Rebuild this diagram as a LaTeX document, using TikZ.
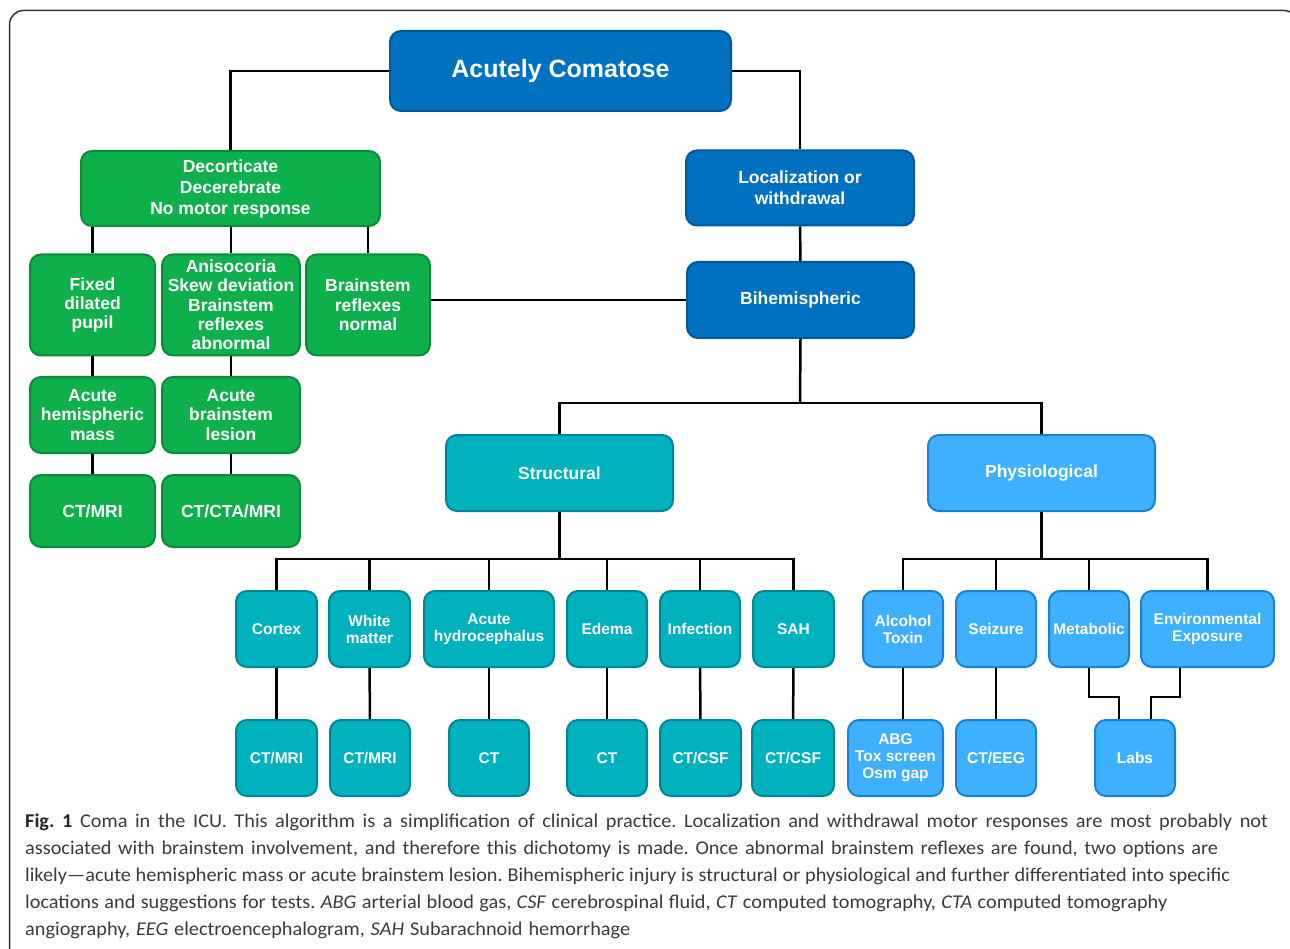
\documentclass[tikz,border=0pt]{standalone}
\usepackage{fontspec}
\setmainfont{Liberation Sans}
\newfontfamily\capfont[Ligatures=TeX,FakeStretch=1.04]{Carlito}
\usetikzlibrary{positioning}
\definecolor{dblueF}{RGB}{0,112,192}
\definecolor{dblueD}{RGB}{0,88,158}
\definecolor{greenF}{RGB}{14,176,75}
\definecolor{greenD}{RGB}{12,138,58}
\definecolor{tealF}{RGB}{0,178,190}
\definecolor{tealD}{RGB}{0,134,146}
\definecolor{lblueF}{RGB}{63,176,255}
\definecolor{lblueD}{RGB}{26,128,208}
\definecolor{capgray}{RGB}{58,58,58}
\newcommand{\capline}[2]{\makebox[#1pt][s]{#2}}
\tikzset{
  bx/.style={rectangle,rounded corners=11pt,draw,line width=2pt,text=white,
             align=center,inner sep=1pt,
             font=\bfseries\fontsize{17.5}{19.3}\selectfont},
  sm/.style={font=\bfseries\fontsize{15.5}{17}\selectfont},
  dbl/.style={bx,fill=dblueF,draw=dblueD},
  grn/.style={bx,fill=greenF,draw=greenD},
  tea/.style={bx,sm,fill=tealF,draw=tealD},
  lbl/.style={bx,sm,fill=lblueF,draw=lblueD},
  ln/.style={line width=2.5pt,black},
  capt/.style={anchor=base west,inner sep=0pt,text=capgray,
               font=\capfont\fontsize{19.5}{23}\selectfont\frenchspacing},
  every picture/.style={line join=miter}}
\begin{document}
\begin{tikzpicture}[x=1pt,y=-1pt]
  \useasboundingbox (0,0) rectangle (1290,949);
  \draw[line width=1.5pt,black!80,rounded corners=14pt] (9.5,10.5) rectangle (1298,990);
  % top of the tree
  \node[dbl,minimum width=341,minimum height=80,
        font=\bfseries\fontsize{25}{28}\selectfont] (top) at (560.5,71){Acutely Comatose};
  \node[grn,minimum width=299,minimum height=75,
        font=\bfseries\fontsize{17.5}{21}\selectfont] (dec) at (230.5,188.5){Decorticate\\Decerebrate\\No motor response};
  \node[dbl,minimum width=228,minimum height=75,
        font=\bfseries\fontsize{17.5}{21}\selectfont] (loc) at (800,188){Localization or\\withdrawal};
  \node[dbl,minimum width=227,minimum height=76] (bih) at (800.5,300){Bihemispheric};
  % green branch
  \node[grn,minimum width=125,minimum height=101] (fdp) at (92.5,305){Fixed\\dilated\\pupil};
  \node[grn,minimum width=138,minimum height=101] (ani) at (231,305){Anisocoria\\Skew deviation\\Brainstem\\reflexes\\abnormal};
  \node[grn,minimum width=124,minimum height=101] (bsn) at (368,305){Brainstem\\reflexes\\normal};
  \node[grn,minimum width=125,minimum height=76] (ahm) at (92.5,415){Acute\\hemispheric\\mass};
  \node[grn,minimum width=138,minimum height=76] (abl) at (231,415){Acute\\brainstem\\lesion};
  \node[grn,minimum width=125,minimum height=72] (ctm) at (92.5,511){CT/MRI};
  \node[grn,minimum width=138,minimum height=72] (cta) at (231,511){CT/CTA/MRI};
  % structural / physiological
  \node[tea,minimum width=227,minimum height=76,
        font=\bfseries\fontsize{17.5}{19.3}\selectfont] (str) at (559.5,473){Structural};
  \node[lbl,minimum width=227,minimum height=76,
        font=\bfseries\fontsize{17.5}{19.3}\selectfont] (phy) at (1041.5,473){Physiological};
  \node[tea,minimum width=81,minimum height=76] (cor) at (276.5,629){Cortex};
  \node[tea,minimum width=81,minimum height=76] (wm) at (369.5,629){White\\matter};
  \node[tea,minimum width=130,minimum height=76] (hyd) at (489,629){Acute\\hydrocephalus};
  \node[tea,minimum width=80,minimum height=76] (ede) at (607,629){Edema};
  \node[tea,minimum width=80,minimum height=76] (inf) at (700,629){Infection};
  \node[tea,minimum width=81,minimum height=76] (sah) at (793.5,629){SAH};
  \node[tea,minimum width=81,minimum height=76] (tcor) at (276.5,758){CT/MRI};
  \node[tea,minimum width=80,minimum height=76] (twm) at (370,758){CT/MRI};
  \node[tea,minimum width=80,minimum height=76] (thyd) at (489,758){CT};
  \node[tea,minimum width=80,minimum height=76] (tede) at (607,758){CT};
  \node[tea,minimum width=81,minimum height=76] (tinf) at (700.5,758){CT/CSF};
  \node[tea,minimum width=82,minimum height=76] (tsah) at (793,758){CT/CSF};
  \node[lbl,minimum width=80,minimum height=76] (alc) at (903,629){Alcohol\\Toxin};
  \node[lbl,minimum width=80,minimum height=76] (sei) at (996,629){Seizure};
  \node[lbl,minimum width=80,minimum height=76] (met) at (1089,629){Metabolic};
  \node[lbl,minimum width=133,minimum height=76] (env) at (1207.5,629){Environmental\\Exposure};
  \node[lbl,minimum width=95,minimum height=76] (abg) at (895.5,758){ABG\\Tox screen\\Osm gap};
  \node[lbl,minimum width=80,minimum height=76] (eeg) at (996,758){CT/EEG};
  \node[lbl,minimum width=80,minimum height=76] (lab) at (1135,758){Labs};
  % connectors
  \coordinate (bj) at (800,403);
  \coordinate (sj) at (559.5,559);
  \coordinate (pj) at (1041.5,559);
  \draw[ln] (top.west) -| (dec.north);
  \draw[ln] (top.east) -| (loc.north);
  \draw[ln] (loc) -- (bih);
  \draw[ln] (bih.west) -- (bih.west -| bsn.east);
  \foreach \n in {fdp,ani,bsn} \draw[ln] (\n.north) -- (\n.north |- dec.south);
  \draw[ln] (fdp) -- (ahm) (ahm) -- (ctm);
  \draw[ln] (ani) -- (abl) (abl) -- (cta);
  \draw[ln] (bih.south) -- (bj);
  \draw[ln] (str.north) |- (bj) -| (phy.north);
  \draw[ln] (str.south) -- (sj) (phy.south) -- (pj);
  \draw[ln] (cor.north) |- (sj) -| (sah.north);
  \foreach \n in {wm,hyd,ede,inf} \draw[ln] (sj -| \n.north) -- (\n.north);
  \draw[ln] (alc.north) |- (pj) -| (env.north);
  \foreach \n in {sei,met} \draw[ln] (pj -| \n.north) -- (\n.north);
  \foreach \a/\b in {cor/tcor,wm/twm,hyd/thyd,ede/tede,inf/tinf,sah/tsah,sei/eeg}
    \draw[ln] (\a) -- (\b);
  \draw[ln] (alc.south) -- (alc.south |- abg.north);
  \draw[ln] (met.south) -- ++(0,29) -| ([xshift=-16]lab.north);
  \draw[ln] ([xshift=-27.5]env.south) -- ++(0,29) -| ([xshift=16]lab.north);
  % caption
  \node[capt] (cap1) at (25,827){\capline{1243}{{\bfseries\color{black!85}Fig. 1} Coma in the ICU. This algorithm is a simplification of clinical practice. Localization and withdrawal motor responses are most probably not}};
  \node[capt] (cap2) at (25,854){\capline{1193}{associated with brainstem involvement, and therefore this dichotomy is made. Once abnormal brainstem reflexes are found, two options are}};
  \node[capt] (cap3) at (25,881){\capline{1205}{likely—acute hemispheric mass or acute brainstem lesion. Bihemispheric injury is structural or physiological and further differentiated into specific}};
  \node[capt] (cap4) at (25,908){\capline{1142}{locations and suggestions for tests. \textit{ABG} arterial blood gas, \textit{CSF} cerebrospinal fluid, \textit{CT} computed tomography, \textit{CTA} computed tomography}};
  \node[capt] (cap5) at (25,935){\capline{605}{angiography, \textit{EEG} electroencephalogram, \textit{SAH} Subarachnoid hemorrhage}};
\end{tikzpicture}
\end{document}
